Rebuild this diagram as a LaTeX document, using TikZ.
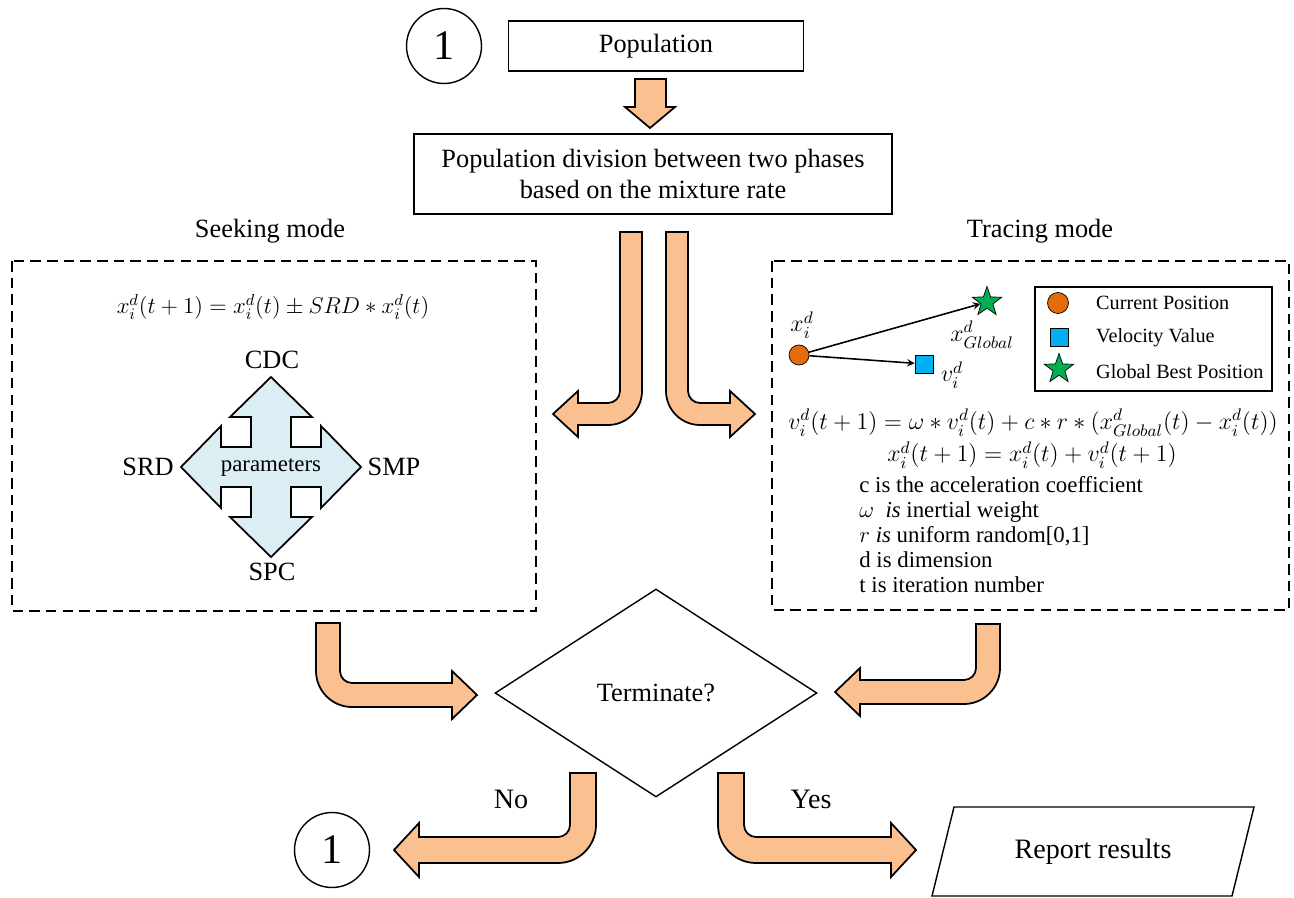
\documentclass[tikz,border=0pt]{standalone}
\usepackage{fix-cm}
\usepackage{fontspec}
\setmainfont{Liberation Serif}
\usepackage{amsmath}
\usepackage{tikz}
\usetikzlibrary{shapes.geometric}

\definecolor{peach}{HTML}{FAC090}
\definecolor{paleblue}{HTML}{DAEEF3}
\definecolor{posorange}{HTML}{E46C0A}
\definecolor{velblue}{HTML}{00B0F0}
\definecolor{bestgreen}{HTML}{00B050}

% bent block arrow: shaft x, shaft top, row y, tip x, side (1 right, -1 left), half shaft, half head
\newcommand{\bentarrow}[7]{%
  \pgfmathsetmacro{\bin}{#1+#5*#6}%
  \pgfmathsetmacro{\bout}{#1-#5*#6}%
  \pgfmathsetmacro{\bbase}{#4-#5*25}%
  \pgfmathsetmacro{\brout}{12+2*#6}%
  \draw[blockarrow] (\bin,#2) -- (\bin,{#3-#6-12})
    .. controls (\bin,{#3-#6-5.4}) and ({\bin+#5*5.4},{#3-#6}) .. ({\bin+#5*12},{#3-#6})
    -- (\bbase,{#3-#6}) -- (\bbase,{#3-#7}) -- (#4,#3) -- (\bbase,{#3+#7}) -- (\bbase,{#3+#6})
    -- ({\bout+#5*\brout},{#3+#6})
    .. controls ({\bout+#5*0.45*\brout},{#3+#6}) and (\bout,{#3+#6-0.45*\brout}) .. (\bout,{#3+#6-\brout})
    -- (\bout,#2) -- cycle;
}

\begin{document}
\begin{tikzpicture}[
    x=0.02cm, y=-0.02cm,
    every node/.style={font=\fontsize{15}{18}\selectfont},
    box/.style={draw, line width=0.8pt, inner sep=0pt},
    dashbox/.style={draw, line width=1.1pt, dash pattern=on 6pt off 3.5pt},
    blockarrow/.style={draw, fill=peach, line width=1pt},
    quadarrow/.style={draw, fill=paleblue, line width=1pt},
    connector/.style={circle, draw, line width=0.8pt, minimum size=1.5cm, inner sep=0pt, font=\fontsize{24}{28}\selectfont},
    arrow/.style={->, >=stealth, line width=0.9pt},
    small/.style={font=\fontsize{11.5}{14}\selectfont},
    eq/.style={font=\fontsize{13.6}{16}\selectfont}
]
\useasboundingbox (0,0) rectangle (1294,898);

\node[connector] (start) at (444,46) {1};
\node[box, minimum width=5.9cm, minimum height=1cm] (pop) at (656,46) {Population};
\draw[blockarrow] (635,79) -- (635,107) -- (625,107) -- (650,128) -- (675,107) -- (666,107) -- (666,79) -- cycle;
\node[box, minimum width=9.56cm, minimum height=1.6cm, align=center] (divide) at (653,174)
    {Population division between two phases\\based on the mixture rate};

\node (seeklabel) at (270,231) {Seeking mode};
\node (tracelabel) at (1040,231) {Tracing mode};
\draw[dashbox] (12,261) rectangle (536,611);
\draw[dashbox] (772,261) rectangle (1289,610);

\bentarrow{631}{232}{414}{553}{-1}{11}{23}
\bentarrow{677}{232}{414}{755}{1}{11}{23}

% seeking mode
\node[font=\fontsize{13}{16}\selectfont] (seekeq) at (273,307) {$x_i^d(t+1) = x_i^d(t) \pm SRD * x_i^d(t)$};
\draw[quadarrow] (271,467) ++(0,-90) -- ++(41,40) -- ++(-21,0) -- ++(0,30) -- ++(30,0) -- ++(0,-21)
    -- ++(40,41) -- ++(-40,41) -- ++(0,-21) -- ++(-30,0) -- ++(0,30) -- ++(21,0)
    -- ++(-41,40) -- ++(-41,-40) -- ++(21,0) -- ++(0,-30) -- ++(-30,0) -- ++(0,21)
    -- ++(-40,-41) -- ++(40,-41) -- ++(0,21) -- ++(30,0) -- ++(0,-30) -- ++(-21,0) -- cycle;
\node[font=\fontsize{13}{16}\selectfont] (param) at (271,467) {parameters};
\node (cdc) at (272,360) {CDC};
\node (spc) at (272,572) {SPC};
\node (srd) at (148,467) {SRD};
\node (smp) at (394,467) {SMP};

% tracing mode
\node[circle, draw, fill=posorange, minimum size=0.4cm, inner sep=0pt] (xpos) at (799,355) {};
\node[star, star points=5, star point ratio=2.5, draw, fill=bestgreen, minimum size=0.62cm, inner sep=0pt] (gbest) at (987,302) {};
\node[draw, fill=velblue, minimum size=0.36cm, inner sep=0pt] (vel) at (924,364) {};
\draw[arrow] (xpos) -- (gbest);
\draw[arrow] (xpos) -- (vel);
\node[eq] (xlab) at (802,325) {$x_i^d$};
\node[eq] (glab) at (982,335) {$x_{Global}^d$};
\node[eq] (vlab) at (952,375) {$v_i^d$};

\draw[line width=0.9pt] (1035,287) rectangle (1272,391);
\node[circle, draw, fill=posorange, minimum size=0.42cm, inner sep=0pt] (keypos) at (1058,303) {};
\node[draw, fill=velblue, minimum size=0.36cm, inner sep=0pt] (keyvel) at (1059,337) {};
\node[star, star points=5, star point ratio=2.5, draw, fill=bestgreen, minimum size=0.62cm, inner sep=0pt] (keybest) at (1059,369) {};
\node[small, anchor=west] (keyposlab) at (1090,303) {Current Position};
\node[small, anchor=west] (keyvellab) at (1090,338) {Velocity Value};
\node[small, anchor=west] (keybestlab) at (1090,372) {Global Best Position};

\node[eq] (veq) at (1033,423) {$v_i^d(t+1) = \omega * v_i^d(t) + c * r * (x_{Global}^d(t) - x_i^d(t))$};
\node[eq] (xeq) at (1032,455) {$x_i^d(t+1) = x_i^d(t) + v_i^d(t+1)$};
\node[anchor=north west, align=left, inner sep=0pt, font=\fontsize{13}{14.3}\selectfont] (notes) at (859,476)
    {c is the acceleration coefficient\\
     $\omega$\ \ \textit{is} inertial weight\\
     $r$ \textit{is} uniform random[0,1]\\
     d is dimension\\
     t is iteration number};

% decision
\bentarrow{328}{623}{695}{477}{1}{12}{24}
\bentarrow{988}{624}{692}{835}{-1}{12}{24}
\node[diamond, draw, line width=0.8pt, minimum width=6.44cm, minimum height=4.16cm, inner sep=0pt] (stop) at (656,693) {Terminate?};

\bentarrow{583}{773}{850}{394}{-1}{13}{27}
\bentarrow{731}{773}{850}{916}{1}{13}{27}
\node[font=\fontsize{16}{19}\selectfont] (no) at (511,799) {No};
\node[font=\fontsize{16}{19}\selectfont] (yes) at (811,799) {Yes};
\node[connector] (again) at (332,850) {1};
\draw[line width=0.8pt] (932,896) -- (954,807) -- (1254,807) -- (1232,896) -- cycle;
\node[font=\fontsize{16}{19}\selectfont] (report) at (1093,852) {Report results};
\end{tikzpicture}
\end{document}
